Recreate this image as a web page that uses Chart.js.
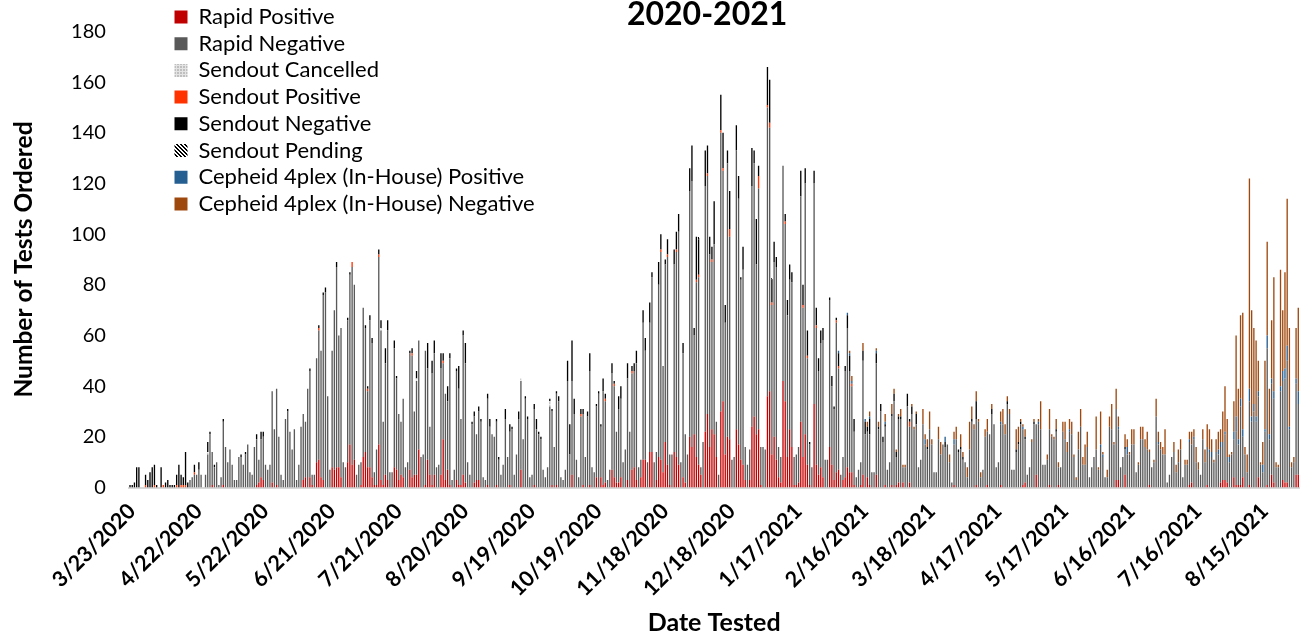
<!DOCTYPE html>
<html>
<head>
<meta charset="utf-8">
<title>2020-2021</title>
<script src="https://cdn.jsdelivr.net/npm/chart.js@4/dist/chart.umd.js"></script>
<style>
body { margin: 0; background: #fff; }
</style>
</head>
<body>
<canvas id="testsChart" width="1307" height="644"></canvas>
<script>
// one entry per day, first bar is 3/23/2020
var dayCount = 527;
var rapidNegative = [
    0,0,0,0,0,0,0,0,0,0, 0,0,0,0,0,0,0,0,0,0, 0,0,0,0,0,0,0,3,4,5,
    5,7,5,0,5,13,21,13,8,10, 1,4,25,16,10,15,9,3,3,12, 12,9,13,17,6,5,16,18,9,15,
    17,9,7,9,36,23,38,20,5,3, 27,30,22,15,23,3,9,24,26,22, 39,42,4,5,41,51,50,73,77,36,
    7,46,63,79,52,59,10,8,56,67, 78,69,5,9,9,59,49,30,58,53, 5,14,74,59,25,44,59,6,6,47,
    36,26,21,31,8,10,46,48,25,37,43,
    12,13,53,36,19,44,48,8,9,42, 30,34,27,50,3,7,43,38,26,55, 47,10,5,25,26,18,27,26,4,3,
    34,24,21,20,25,11,5,9,27,12, 21,23,5,13,27,35,19,35,27,4, 5,30,23,21,19,7,4,8,32,29,
    16,36,34,4,3,7,42,13,37,29, 11,4,28,28,12,28,45,8,6,28, 37,20,37,32,3,7,38,36,20,29,
    31,10,15,40,22,38,38,46,8,7, 54,43,10,51,69,10,11,68,82,42, 70,82,12,13,74,81,92,10,49,19,
    13,97,105,39,69,74,3,18,97,94, 76,66,75,14,5,110,91,52,108,80, 11,12,110,97,71,77,13,9,12,95,
    100,67,95,15,16,15,114,104,59,69, 76,12,10,85,70,56,59,65,11,12, 14,89,59,99,42,16,8,87,54,41,
    49,54,11,11,58,31,28,59,40,5, 9,42,55,40,34,21,4,7,9,45, 21,18,20,6,6,44,23,30,18,23,
    7,10,27,34,11,25,27,6,8,32, 22,29,23,25,8,11,25,17,15,23, 17,6,6,19,13,17,16,17,10,2,
    16,19,14,15,11,10,4,15,26,23, 26,26,4,7,20,21,21,29,25,8, 10,24,25,21,33,29,7,7,14,17,
    25,22,17,5,8,18,25,20,25,23, 9,9,11,22,20,19,22,7,8,22, 19,14,22,21,12,3,15,24,9,9,
    16,4,8,12,15,7,16,12,4,4, 24,23,17,28,20,8,12,10,13,13, 17,17,6,9,19,19,16,15,13,8,
    10,28,17,15,13,13,2,5,12,14, 6,10,15,4,9,9,17,15,19,10, 7,5,19,10,15,14,12,10,14,13,
    14,15,18,10,10,13,15,21,16,31, 16,13,6,33,26,30,26,32,9,6, 22,54,19,36,33,8,8,38,39,41,
    48,23,8,10,36,28
];
// the other series are mostly empty, so day index -> count
var rapidPositive = {37:1,42:1,57:1,58:2,59:4,60:3,64:2,66:1,78:3,79:4,81:4,82:1,84:10,85:11,86:4,87:3,91:8,92:7,93:8,94:8,95:4,98:10,99:17,100:9,101:11,104:1,105:12,106:14,107:8,108:8,109:4,110:1,111:1,112:17,113:3,114:1,115:5,116:3,119:8,120:7,121:3,122:5,123:4,126:7,127:4,128:5,129:5,130:15,133:1,134:11,135:5,136:1,137:5,140:5,141:19,142:3,143:7,144:1,147:3,148:1,149:1,150:5,151:2,155:2,156:3,157:3,161:1,165:1,171:1,176:7,182:1,190:1,192:1,199:5,204:1,207:1,210:4,212:4,213:1,214:2,217:7,218:4,219:2,220:2,221:4,224:3,226:7,227:8,228:3,230:4,231:11,232:11,234:14,235:14,237:3,238:12,239:11,240:6,241:18,242:9,243:1,245:14,246:12,247:9,249:4,250:2,252:20,253:16,254:21,255:12,256:9,257:5,259:22,260:29,261:16,262:23,263:21,264:12,266:30,267:34,268:13,269:20,270:19,273:23,274:17,275:11,276:9,277:3,279:3,280:24,281:28,282:21,283:23,284:1,287:36,288:38,289:13,290:20,291:11,292:4,293:2,294:42,295:34,296:12,297:23,298:16,299:1,300:1,301:2,302:26,303:12,304:21,305:9,306:1,308:33,309:9,310:5,311:8,312:4,315:16,316:9,317:3,318:6,319:7,321:3,322:4,323:8,324:6,325:6,326:1,329:1,330:5,332:4,333:1,336:5,340:1,343:1,345:1,346:2,348:2,351:2,371:1,381:1,386:1,392:1,402:1,403:2,408:5,414:1,418:1,444:3,445:3,448:5,459:1,477:1,478:2,485:1,491:2,492:3,493:3,494:2,497:4,498:1,499:1,500:1,501:4,504:1,508:4,512:1,514:5,515:2,519:3,520:2,521:2,525:5,526:5};
var sendoutCancelled = {35:1,113:1,129:1,176:1,189:2};
var sendoutPositive = {7:1,11:1,15:1,21:1,23:1,24:1,25:1,29:1,85:1,100:2,107:1,112:1,127:1,141:1,203:1,214:1,218:1,226:1,239:1,242:1,246:1,255:1,256:1,260:1,262:1,266:1,267:1,270:3,283:5,287:1,288:2,289:1,295:1,303:1,305:1,309:1,318:1,319:1,325:1,351:2};
var sendoutNegative = {0:1,1:1,2:2,3:8,4:8,7:4,8:3,9:6,10:8,11:8,12:1,14:8,16:2,17:3,18:1,19:1,20:1,21:4,22:9,23:4,24:3,25:13,26:2,29:3,31:3,35:4,36:1,38:1,42:1,50:1,52:1,57:2,59:3,60:2,71:1,81:1,85:1,87:1,88:2,93:2,98:1,99:1,106:1,107:1,108:2,109:2,112:2,113:3,115:6,116:4,119:3,120:1,126:1,127:2,129:3,134:10,136:5,137:5,140:6,141:3,143:6,144:2,147:1,148:9,150:2,151:8,154:1,155:2,157:2,158:1,161:2,162:3,165:1,166:1,169:4,171:3,172:1,175:3,178:1,179:1,182:2,183:4,184:1,185:1,189:1,190:1,192:1,193:2,197:8,198:12,199:16,200:6,203:2,204:2,206:2,207:7,210:1,211:1,212:1,213:5,214:2,217:4,218:1,220:5,221:5,224:6,226:2,227:3,228:5,231:5,232:5,234:8,235:2,238:9,239:6,241:2,242:6,245:6,246:7,247:7,249:4,252:9,253:14,254:3,255:17,256:14,259:14,260:11,261:7,262:5,263:17,266:14,267:14,268:7,269:5,270:15,273:10,274:9,275:1,276:9,280:15,281:5,282:18,283:4,287:15,288:17,289:9,290:8,291:4,295:3,296:6,297:6,298:4,302:10,303:8,304:6,305:10,306:1,308:5,309:7,310:5,311:5,312:5,315:1,316:4,317:1,318:1,319:5,322:2,323:5,324:6,326:5,330:4,331:5,332:2,333:6,336:4,337:1,338:3,339:2,340:1,343:1,344:3,345:2,346:1,347:1,350:5,351:1,352:3,354:4,359:1,367:2,373:1,374:1,375:1,379:1,381:7,388:2,395:1,399:1,400:1,401:1,403:1,407:1,417:1,448:1};
var sendoutPending = {256:1,289:1};
var cepheidPositive = {319:1,323:1,324:1,325:1,331:1,333:1,336:1,340:1,358:2,367:2,371:2,392:1,402:1,409:1,423:1,437:1,438:1,445:1,449:3,463:1,477:1,479:1,486:1,487:2,490:2,491:2,493:1,495:2,497:3,498:6,499:2,500:3,501:3,504:5,505:2,506:3,507:2,508:2,510:3,511:1,512:5,513:2,514:2,515:3,518:2,519:4,520:4,521:6,522:1,525:2,526:5};
var cepheidNegative = {324:1,325:2,330:3,332:2,333:2,336:1,337:2,340:3,343:4,344:2,345:1,346:1,347:3,348:1,349:1,352:1,353:1,354:1,357:6,358:2,359:3,360:7,361:2,364:5,365:5,369:3,371:3,372:5,374:5,375:2,377:4,378:11,379:5,380:2,381:4,382:1,383:2,385:3,386:5,388:2,392:4,393:6,394:4,395:2,396:2,399:8,400:6,401:1,402:1,403:3,406:1,407:1,409:1,410:11,413:2,414:8,415:1,416:1,417:4,418:2,420:4,421:7,422:4,423:4,424:5,425:1,426:1,427:7,428:7,429:3,430:8,431:6,435:13,436:1,437:13,438:1,440:3,441:4,442:10,443:1,444:8,445:4,448:5,449:3,450:1,451:6,452:6,454:1,455:5,456:5,457:3,458:7,459:1,461:1,462:7,463:4,464:3,465:3,466:10,470:4,471:3,472:5,473:4,475:2,476:2,477:3,478:5,479:3,480:6,481:3,483:4,484:5,485:9,486:8,487:5,488:1,489:5,490:7,491:5,492:12,493:18,494:15,495:1,496:1,497:12,498:32,499:20,500:33,501:46,502:3,503:7,504:83,505:42,506:30,507:30,508:12,509:1,510:9,511:27,512:37,513:18,514:23,515:45,516:2,517:1,518:46,519:24,520:38,521:58,522:39,523:2,524:2,525:20,526:33};

var categories = [];
for (var d = 0; d < dayCount; d++) {
    var day = new Date(2020, 2, 23 + d);
    categories.push((day.getMonth() + 1) + '/' + day.getDate() + '/' + day.getFullYear());
}

function series(counts) {
    return categories.map(function (c, i) { return counts[i] || 0; });
}

function makePattern(size, paint) {
    var tile = document.createElement('canvas');
    tile.width = size;
    tile.height = size;
    paint(tile.getContext('2d'));
    return document.getElementById('testsChart').getContext('2d').createPattern(tile, 'repeat');
}

var cancelledFill = makePattern(3, function (c) {
    c.fillStyle = '#bfbfbf';
    c.fillRect(0, 0, 3, 3);
    c.fillStyle = '#e4e4e4';
    c.fillRect(2, 0, 1, 3);
    c.fillRect(0, 2, 3, 1);
});
var pendingFill = makePattern(4, function (c) {
    c.fillStyle = '#fff';
    c.fillRect(0, 0, 4, 4);
    c.fillStyle = '#000';
    for (var k = 0; k < 4; k++) {
        c.fillRect(k, k, 1, 1);
        c.fillRect((k + 1) % 4, k, 1, 1);
    }
});

// legend and title sit outside the plot, Excel style
var placeBoxes = {
    id: 'placeBoxes',
    afterLayout: function (chart) {
        var legend = chart.legend;
        legend.left = 169.8;
        legend.right = 700;
        legend.top = 1.3;
        legend.bottom = 240;
        var title = chart.titleBlock;
        title.left -= 7;
        title.right -= 7;
        title.top -= 0.75;
        title.bottom -= 0.75;
    }
};

var ctxTestsChart = document.getElementById('testsChart').getContext('2d');
var testsChart = new Chart(ctxTestsChart, {
    type: 'bar',
    plugins: [placeBoxes],
    data: {
        labels: categories,
        datasets: [
            { label: 'Rapid Positive', data: series(rapidPositive), backgroundColor: '#c00000' },
            { label: 'Rapid Negative', data: rapidNegative, backgroundColor: '#595959' },
            { label: 'Sendout Cancelled', data: series(sendoutCancelled), backgroundColor: cancelledFill },
            { label: 'Sendout Positive', data: series(sendoutPositive), backgroundColor: '#ff3300' },
            { label: 'Sendout Negative', data: series(sendoutNegative), backgroundColor: '#000000' },
            { label: 'Sendout Pending', data: series(sendoutPending), backgroundColor: pendingFill },
            { label: 'Cepheid 4plex (In-House) Positive', data: series(cepheidPositive), backgroundColor: '#255e91' },
            { label: 'Cepheid 4plex (In-House) Negative', data: series(cepheidNegative), backgroundColor: '#9e480e' }
        ]
    },
    options: {
        responsive: false,
        animation: false,
        layout: { padding: { right: 7.6 } },
        datasets: { bar: { categoryPercentage: 1, barPercentage: 0.6 } },
        plugins: {
            tooltip: { enabled: false },
            title: {
                display: true,
                text: '2020-2021',
                color: '#000',
                fullSize: false,
                padding: 0,
                font: { family: 'Lato', size: 32, weight: 'bold', lineHeight: 0.985 }
            },
            legend: {
                position: 'chartArea',
                align: 'start',
                labels: {
                    color: '#000',
                    boxWidth: 13,
                    boxHeight: 13,
                    padding: 4.7,
                    font: { family: 'Lato', size: 22 }
                }
            }
        },
        scales: {
            x: {
                stacked: true,
                afterFit: function (scale) { scale.height = 156.5; scale.paddingTop = 0; },
                grid: { display: false, drawTicks: false },
                border: { color: '#d9d9d9', width: 2 },
                title: {
                    display: true,
                    text: 'Date Tested',
                    color: '#000',
                    padding: { top: 0, bottom: 6 },
                    font: { family: 'Lato', size: 25, weight: 'bold' }
                },
                ticks: {
                    autoSkip: false,
                    minRotation: 45,
                    maxRotation: 45,
                    padding: 11,
                    labelOffset: 2,
                    color: '#000',
                    font: { family: 'Lato', size: 21.5, weight: 'bold' },
                    callback: function (value, index) {
                        return index % 30 === 0 ? categories[index] : null;
                    }
                }
            },
            y: {
                stacked: true,
                min: 0,
                max: 180,
                afterFit: function (scale) { scale.width = 128.9; scale.paddingTop = 0; },
                grid: { display: false, drawTicks: false },
                border: { display: false },
                title: {
                    display: true,
                    text: 'Number of Tests Ordered',
                    color: '#000',
                    padding: { top: 9.5, bottom: 0 },
                    font: { family: 'Lato', size: 24.5, weight: 'bold' }
                },
                ticks: {
                    stepSize: 20,
                    padding: 23,
                    color: '#000',
                    font: { family: 'Lato', size: 20 }
                }
            }
        }
    }
});
</script>
</body>
</html>
